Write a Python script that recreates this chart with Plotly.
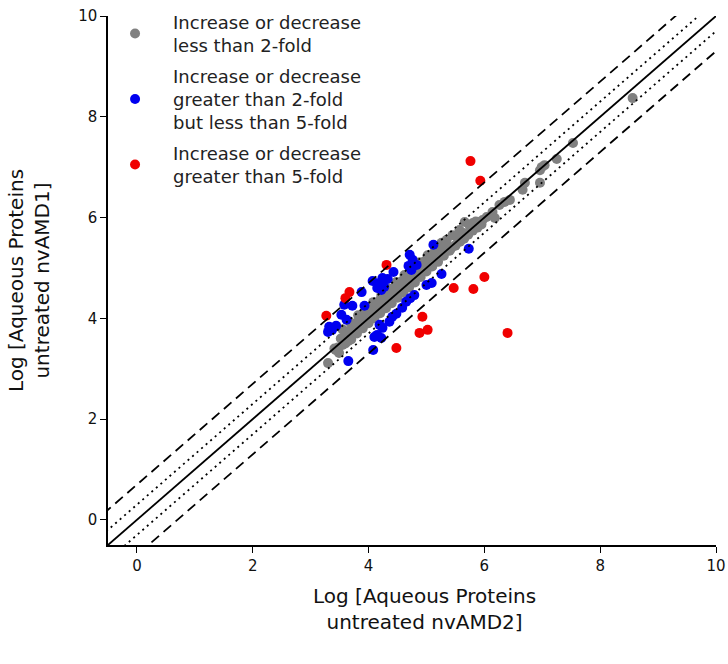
import plotly.graph_objects as go
import math

# ---- data (log10 abundance) ----
gray_x = [3.30, 3.43, 3.49, 3.55, 3.41, 3.47, 3.52, 3.58, 3.60, 3.63, 3.66, 3.70, 3.72, 3.75, 3.78,
          3.80, 3.83, 3.85, 3.88, 3.90, 3.93, 3.95, 3.97, 4.00, 4.02, 4.05, 4.07, 4.10, 4.12, 4.15,
          4.18, 4.20, 4.22, 4.25, 4.28, 4.30, 4.33, 4.35, 4.38, 4.40, 4.43, 4.45, 4.48, 4.50, 4.53,
          4.55, 4.58, 4.60, 4.63, 4.65, 4.68, 4.70, 4.73, 4.75, 4.78, 4.80, 4.83, 4.85, 4.88, 4.90,
          4.93, 4.95, 4.98, 5.00, 5.03, 5.05, 5.08, 5.10, 5.13, 5.15, 5.18, 5.20, 5.25, 5.30, 5.35,
          3.60, 3.70, 3.80, 3.90, 4.00, 4.10, 4.20, 4.30, 4.40, 4.50, 4.60, 4.70, 4.80, 4.90, 5.00,
          5.10, 5.20, 5.30, 5.40, 5.50, 3.65,
          3.55, 3.68, 3.82, 3.95, 4.08, 4.22, 4.35, 4.48, 4.62, 4.75, 4.88, 5.02,
          5.42, 5.50, 5.58, 5.65, 5.72, 5.80, 5.88, 5.95, 5.52, 5.62, 5.75, 5.85,
          5.26, 5.35, 5.45, 5.57, 5.66, 5.80, 5.88, 5.97, 6.04, 6.14, 6.18, 6.26, 6.35, 6.44,
          6.66, 6.70, 6.96, 6.99, 6.96, 7.04, 7.25, 7.53, 8.56]
gray_y = [3.11, 3.37, 3.31, 3.47, 3.40, 3.42, 3.60, 3.52, 3.68, 3.58, 3.75, 3.66, 3.82, 3.71, 3.90,
          3.78, 3.95, 3.84, 4.02, 3.89, 4.08, 3.94, 4.14, 4.00, 4.18, 4.06, 4.25, 4.11, 4.30, 4.16,
          4.34, 4.21, 4.40, 4.27, 4.45, 4.32, 4.50, 4.37, 4.55, 4.42, 4.60, 4.47, 4.64, 4.53, 4.70,
          4.58, 4.74, 4.63, 4.80, 4.68, 4.85, 4.74, 4.90, 4.79, 4.95, 4.84, 5.00, 4.89, 5.05, 4.95,
          5.10, 5.00, 5.14, 5.05, 5.20, 5.10, 5.25, 5.15, 5.30, 5.20, 5.32, 5.26, 5.38, 5.40, 5.47,
          3.50, 3.58, 3.70, 3.80, 3.90, 4.00, 4.10, 4.20, 4.30, 4.41, 4.51, 4.61, 4.71, 4.82, 4.93,
          5.03, 5.12, 5.24, 5.34, 5.45, 3.55,
          3.78, 3.92, 4.06, 4.19, 4.32, 4.46, 4.59, 4.72, 4.86, 4.98, 5.11, 5.25,
          5.38, 5.44, 5.52, 5.58, 5.66, 5.74, 5.80, 5.86, 5.62, 5.70, 5.82, 5.92,
          5.50, 5.56, 5.65, 5.75, 5.91, 5.89, 5.91, 5.95, 6.01, 6.11, 5.99, 6.25, 6.31, 6.35,
          6.55, 6.69, 6.69, 7.00, 6.94, 7.04, 7.16, 7.48, 8.37]

blue_x = [5.12, 5.73, 4.71, 4.76, 4.83, 4.69, 4.74, 4.43, 4.07, 4.19, 4.24, 4.33, 4.15, 4.22,
          4.27, 3.88, 5.26, 5.00, 5.09, 4.79, 4.72, 4.65, 4.58, 3.72, 3.93, 3.58, 3.53, 3.62,
          3.32, 3.37, 3.30, 3.44, 4.48, 4.41, 4.36, 4.19, 4.24, 4.15, 4.10, 4.22, 4.08, 3.65]
blue_y = [5.46, 5.38, 5.26, 5.16, 5.06, 5.04, 4.96, 4.92, 4.74, 4.70, 4.80, 4.78, 4.60, 4.56,
          4.62, 4.52, 4.88, 4.66, 4.70, 4.46, 4.40, 4.33, 4.21, 4.25, 4.25, 4.27, 4.07, 3.97,
          3.83, 3.77, 3.73, 3.85, 4.09, 4.03, 3.93, 3.87, 3.81, 3.67, 3.63, 3.61, 3.37, 3.15]

red_x = [5.76, 5.93, 4.31, 3.27, 3.67, 3.60, 5.47, 5.81, 6.00, 4.93, 5.02, 4.88, 4.48, 6.40]
red_y = [7.12, 6.73, 5.06, 4.05, 4.52, 4.40, 4.60, 4.58, 4.82, 4.03, 3.77, 3.71, 3.41, 3.71]

legend_names = ["Increase or decrease<br>less than 2-fold",
                "Increase or decrease<br>greater than 2-fold<br>but less than 5-fold",
                "Increase or decrease<br>greater than 5-fold"]
colors = ["#808080", "#0000f0", "#f00000"]

x_title = "Log [Aqueous Proteins<br>untreated nvAMD2]"
y_title = "Log [Aqueous Proteins<br>untreated nvAMD1]"

fold_lines = [0.0, math.log10(2), -math.log10(2), math.log10(5), -math.log10(5)]
line_dash = ["solid", "2px,4px", "2px,4px", "10px,6px", "10px,6px"]
line_span = [-1.0, 11.0]

FONT = "DejaVu Sans, Liberation Sans, Arial, sans-serif"

fig = go.Figure()
for i, (xs, ys) in enumerate([(gray_x, gray_y), (blue_x, blue_y), (red_x, red_y)]):
    fig.add_trace(go.Scatter(x=xs, y=ys, mode="markers", name=legend_names[i],
                             legendgroup=f"g{i}",
                             marker=dict(color=colors[i], size=10, line=dict(width=0))))
for off, dash in zip(fold_lines, line_dash):
    fig.add_trace(go.Scatter(x=line_span, y=[v + off for v in line_span], mode="lines",
                             line=dict(color="black", width=1.8, dash=dash),
                             showlegend=False, hoverinfo="skip"))

axis_common = dict(range=[-0.5, 10], tickvals=[0, 2, 4, 6, 8, 10], showgrid=False, zeroline=False,
                   showline=True, linecolor="black", linewidth=1.5, ticks="outside",
                   ticklen=6, tickwidth=1.3, tickcolor="black", automargin=False,
                   tickfont=dict(family=FONT, size=15, color="#111"))

fig.update_layout(
    width=728, height=664,
    margin=dict(l=108, r=12, t=16, b=119, autoexpand=False),
    plot_bgcolor="white", paper_bgcolor="white",
    xaxis=dict(**axis_common),
    yaxis=dict(**axis_common,
               title=dict(text=y_title,
                          font=dict(family=FONT, size=20, color="#111"), standoff=23)),
    legend=dict(x=-0.018, y=1.0236, xanchor="left", yanchor="top", itemwidth=66,
                bgcolor="rgba(0,0,0,0)", tracegroupgap=4,
                font=dict(family=FONT, size=18, color="#222")),
    showlegend=True,
    annotations=[dict(text=x_title, xref="paper", yref="paper", x=0.52, y=-0.069,
                      xanchor="center", yanchor="top", showarrow=False,
                      font=dict(family=FONT, size=20, color="#111"))],
)

fig.write_html("out.html")
